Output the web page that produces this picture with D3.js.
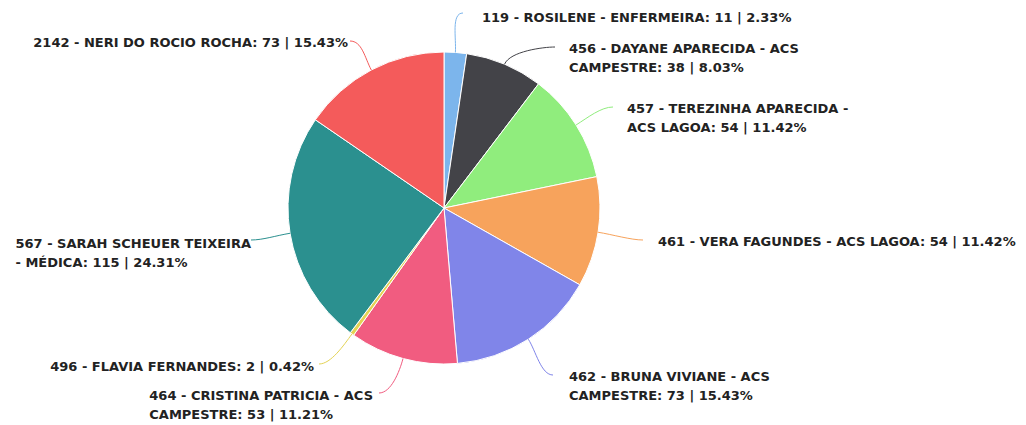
<!DOCTYPE html>
<html>
<head>
<meta charset="utf-8">
<script src="https://cdn.jsdelivr.net/npm/d3@7/dist/d3.min.js"></script>
<style>
  html, body { margin: 0; padding: 0; background: #ffffff; }
  svg { display: block; }
</style>
</head>
<body>
<svg id="chart" width="1026" height="425"></svg>
<script>
// ---- data ----
const names = [
  "119 - ROSILENE - ENFERMEIRA",
  "456 - DAYANE APARECIDA - ACS CAMPESTRE",
  "457 - TEREZINHA APARECIDA - ACS LAGOA",
  "461 - VERA FAGUNDES - ACS LAGOA",
  "462 - BRUNA VIVIANE - ACS CAMPESTRE",
  "464 - CRISTINA PATRICIA - ACS CAMPESTRE",
  "496 - FLAVIA FERNANDES",
  "567 - SARAH SCHEUER TEIXEIRA - MÉDICA",
  "2142 - NERI DO ROCIO ROCHA"
];
const values = [11, 38, 54, 54, 73, 53, 2, 115, 73];
const colors = ["#7cb5ec", "#434348", "#90ed7d", "#f7a35c", "#8085e9",
                "#f15c80", "#e4d354", "#2b908f", "#f45b5b"];

// ---- layout (label placement, not data) ----
// breakAfter: number of words on first line (0 = single line)
// tx,ty: text anchor (left edge for right-side labels, right edge for left-side), first line middle y
// ex,ey: connector end point
const labelLayout = [
  {breakAfter: 0, tx: 482, ty: 17,  ex: 463, ey: 13},
  {breakAfter: 6, tx: 569, ty: 48,  ex: 555, ey: 47},
  {breakAfter: 5, tx: 627, ty: 108, ex: 613, ey: 107},
  {breakAfter: 0, tx: 658, ty: 241, ex: 643, ey: 240},
  {breakAfter: 6, tx: 569, ty: 376, ex: 553, ey: 375},
  {breakAfter: 6, tx: 373, ty: 395, ex: 379, ey: 393},
  {breakAfter: 0, tx: 314, ty: 366, ex: 319, ey: 364},
  {breakAfter: 5, tx: 251, ty: 243, ex: 251, ey: 240},
  {breakAfter: 0, tx: 348, ty: 42,  ex: 350, ey: 41}
];

const cx = 444, cy = 208, R = 156;
const lineH = 19;

const svg = d3.select("#chart");
const total = d3.sum(values);
const data = values.map((v, i) => ({name: names[i], value: v, color: colors[i], layout: labelLayout[i]}));

const pie = d3.pie().value(d => d.value).sort(null);
const arcs = pie(data);
const arc = d3.arc().innerRadius(0).outerRadius(R);

const g = svg.append("g").attr("transform", `translate(${cx},${cy})`);

g.selectAll("path.slice")
  .data(arcs)
  .join("path")
  .attr("class", "slice")
  .attr("d", arc)
  .attr("fill", d => d.data.color)
  .attr("stroke", "#ffffff")
  .attr("stroke-width", 1)
  .attr("stroke-linejoin", "round");

// connectors
arcs.forEach(a => {
  const mid = (a.startAngle + a.endAngle) / 2;
  const ux = Math.sin(mid), uy = -Math.cos(mid);
  const sx = cx + ux * R, sy = cy + uy * R;
  const L = a.data.layout;
  const right = mid < Math.PI;
  const dir = right ? 1 : -1;
  const c1x = sx + ux * 14, c1y = sy + uy * 14;
  const c2x = L.ex - dir * 12, c2y = L.ey;
  svg.append("path")
    .attr("d", `M${sx},${sy} C${c1x},${c1y} ${c2x},${c2y} ${L.ex},${L.ey}`)
    .attr("fill", "none")
    .attr("stroke", a.data.color)
    .attr("stroke-width", 1);
});

// labels
arcs.forEach(a => {
  const mid = (a.startAngle + a.endAngle) / 2;
  const right = mid < Math.PI;
  const L = a.data.layout;
  const pct = (a.data.value / total * 100).toFixed(2);
  const full = `${a.data.name}: ${a.data.value} | ${pct}%`;
  const words = full.split(" ");
  const lines = L.breakAfter > 0
    ? [words.slice(0, L.breakAfter).join(" "), words.slice(L.breakAfter).join(" ")]
    : [full];
  const t = svg.append("text")
    .attr("font-family", "DejaVu Sans, Verdana, sans-serif")
    .attr("font-weight", "bold")
    .attr("font-size", "13px")
    .attr("fill", "#222222");
  const spans = lines.map((ln, k) => t.append("tspan")
    .attr("y", L.ty + k * lineH)
    .attr("dy", "0.35em")
    .text(ln));
  const widths = spans.map(s => s.node().getComputedTextLength());
  const maxW = d3.max(widths);
  const x0 = right ? L.tx : L.tx - maxW;
  spans.forEach(s => s.attr("x", x0));
});
</script>
</body>
</html>
